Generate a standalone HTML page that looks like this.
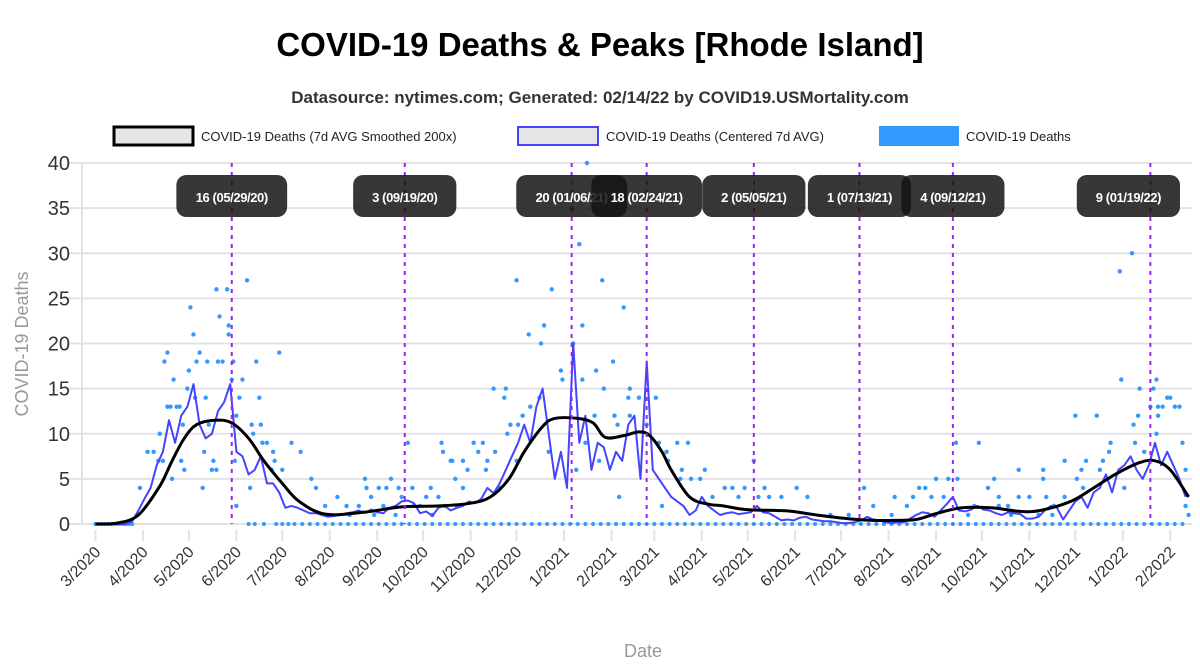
<!DOCTYPE html>
<html><head><meta charset="utf-8"><style>
body{margin:0;background:#fff;}
svg{display:block;font-family:"Liberation Sans",sans-serif;}
</style></head><body>
<svg id="chart" width="1200" height="670" viewBox="0 0 1200 670">
<text x="600" y="56" text-anchor="middle" font-size="33" font-weight="bold" fill="#000">COVID-19 Deaths &amp; Peaks [Rhode Island]</text>
<text x="600" y="103" text-anchor="middle" font-size="17" font-weight="bold" fill="#333">Datasource: nytimes.com; Generated: 02/14/22 by COVID19.USMortality.com</text>
<g>
<g><rect x="114" y="127" width="79" height="18" fill="#e5e5e5" stroke="#000" stroke-width="3"/><text x="201" y="141" font-size="13" fill="#222">COVID-19 Deaths (7d AVG Smoothed 200x)</text></g>
<g><rect x="518" y="127" width="80" height="18" fill="#e5e5e5" stroke="#4444ff" stroke-width="2"/><text x="606" y="141" font-size="13" fill="#222">COVID-19 Deaths (Centered 7d AVG)</text></g>
<g><rect x="879" y="126" width="80" height="20" fill="#3399ff"/><text x="966" y="141" font-size="13" fill="#222">COVID-19 Deaths</text></g>
</g>
<text transform="translate(28,344) rotate(-90)" text-anchor="middle" font-size="18" fill="#999">COVID-19 Deaths</text>
<text x="643" y="657" text-anchor="middle" font-size="18" fill="#999">Date</text>
<g id="grid"></g><g id="marks"></g><g id="peaks"></g>
</svg>
<script>
const yTicks=[0,5,10,15,20,25,30,35,40];
const monthLabels=["3/2020","4/2020","5/2020","6/2020","7/2020","8/2020","9/2020","10/2020","11/2020","12/2020","1/2021","2/2021","3/2021","4/2021","5/2021","6/2021","7/2021","8/2021","9/2021","10/2021","11/2021","12/2021","1/2022","2/2022"];
const monthDays=[0,31,61,92,122,153,184,214,245,275,306,337,365,396,426,457,487,518,549,579,610,640,671,702];
const smoothDays=[0,14,28,42,50,58,66,78,89,100,110,122,133,150,175,200,225,245,258,270,280,292,300,315,325,333,345,355,362,370,376,388,400,410,425,445,455,471,491,508,521,536,550,566,585,604,617,637,652,666,682,692,702,714];
const smoothVals=[0,0.1,1,4.2,7,9.5,11,11.5,11.2,9.5,7,4.5,2.5,1.1,1.3,1.9,2,2.3,3,5,8,10.8,11.7,11.7,11.2,9.6,9.8,10.2,9.8,8,6,3,2.2,2,1.6,1.5,1.4,1,0.6,0.4,0.4,0.5,1.2,1.8,1.8,1.4,1.5,2.5,4,5.5,6.8,7,6,3];
const avgVals=[0,0,0,0,0,0,0.3,1.5,2.8,4,6.5,8,11.5,9,12,13,15.5,11,9.5,10,12.5,13.5,15.5,8,7.5,5.5,6,7.5,4.5,4.5,3.5,1.8,2,1.8,1.5,1.2,1.2,1,0.8,0.9,1,1.2,1.3,1.5,1.2,1.6,1.3,1.2,1.8,2,2.5,2.6,2.3,1.2,1.4,0.9,1.8,2,1.5,1.8,2,
2.5,2.3,2.8,4,3.4,4.5,6,7.5,9,11,9,13,15,10,5,8,4,20,9,12,6,9,8.5,6,8,7,11,12,5,18,6,5,4,3,2.5,2,1,1.5,3,2,1.5,1,1.2,1.3,1.1,1.2,1.3,2,1.3,1.2,0.8,0.4,0.5,0.4,0.7,0.8,
0.5,0.4,0.3,0.3,0.2,0.1,0.1,0.2,0.4,0.8,0.5,0.4,0.2,0.1,0.2,0.2,0.6,1,1.3,1.2,0.8,1.5,2.2,3,1.5,1.4,1.6,2,1.6,1.5,1.2,1,1.3,1.2,1.1,0.6,0.6,0.8,1.5,2,1.8,0.5,1.5,2.5,3,1.8,3.5,4,5.5,3.5,6,6.5,7.5,6,5,6.5,9,6.5,8,6.5,5,3];
const dotDays=[79,86,99,62,81,64,87,87,47,45,68,66,73,80,83,90,105,120,51,61,60,96,89,65,72,94,107,47,49,53,55,92,57,74,102,108,42,103,109,112,128,34,38,71,116,134,41,44,56,77,91,117,58,76,79,115,122,50,141,176,193,29,70,101,144,177,185,190,198,207,219,227,226,204,232,92,
316,321,311,275,331,298,345,293,318,283,291,312,338,304,327,305,318,260,268,332,349,267,348,355,366,284,290,279,326,339,271,276,341,349,360,269,247,253,320,368,380,387,250,261,296,373,233,240,256,275,329,374,430,243,255,314,383,398,235,395,382,389,240,264,411,416,424,437,458,370,342,403,420,433,440,448,465,
677,669,670,682,693,691,700,702,689,694,697,705,708,640,654,681,694,678,693,663,679,710,562,577,662,685,633,647,658,603,619,644,656,712,549,557,563,587,619,641,502,538,542,583,645,672,522,534,546,554,590,603,621,633,712,714,
150,158,166,172,180,188,196,212,216,224,236,152,164,182,200,208,220,228,480,492,508,520,530,590,598,610,616,626,625,574,570,596];
const dotVals=[26,26,27,24,23,21,22,21,19,18,19,18,18,18,18,18,18,19,16,17,15,16,16,14,14,14,14,13,13,13,13,12,11,11,11,11,10,10,9,9,9,8,8,8,8,8,7,7,7,7,7,7,6,6,6,6,6,5,5,5,5,4,4,4,4,4,4,4,4,4,4,8,9,9,7,2,
31,40,35,27,27,26,24,22,22,21,20,20,18,17,17,16,16,15,15,15,15,14,14,14,14,13,14,12,12,12,11,11,11,12,11,10,9,9,9,9,9,9,8,8,8,8,7,7,7,7,7,7,7,6,6,6,6,6,5,5,5,5,4,4,4,4,4,4,4,2,3,3,3,3,3,3,3,
30,28,16,15,16,15,14,14,13,13,13,13,13,12,12,12,12,11,10,9,9,9,9,9,8,8,7,7,7,6,6,6,6,6,5,5,5,5,5,5,4,4,4,4,4,4,3,3,3,3,3,3,3,3,2,1,
2,3,1,2,3,2,1,2,3,3,2,1,2,1,3,2,1,2,1,1,2,1,2,2,1,3,1,2,1,2,1,2];
const zeroDays=[0,2,4,6,8,10,12,14,16,18,20,22,24,100,104,110,118,122,126,130,135,140,145,150,155,160,165,170,175,180,185,190,195,200,205,210,215,220,225,230,235,240,245,250,255,260,265,270,275,280,285,290,295,300,305,310,315,320,325,330,335,340,345,350,355,360,365,370,375,380,385,390,395,400,405,410,415,420,425,430,435,440,445,450,455,460,465,470,475,480,485,490,495,500,505,510,515,520,525,530,535,540,545,550,555,560,565,570,575,580,585,590,595,600,605,610,615,620,625,630,635,640,645,650,655,660,665,670,675,680,685,690,695,700,705,710];
const peakDays=[89,202,311,360,430,499,560,689];
const peakLabels=["16 (05/29/20)","3 (09/19/20)","20 (01/06/21)","18 (02/24/21)","2 (05/05/21)","1 (07/13/21)","4 (09/12/21)","9 (01/19/22)"];

const NS="http://www.w3.org/2000/svg";
const X=d=>95.5+d*1.531;
const Y=v=>524-v*9.025;
function mk(tag,attrs,parent){const e=document.createElementNS(NS,tag);for(const k in attrs)e.setAttribute(k,attrs[k]);parent.appendChild(e);return e;}
const grid=document.getElementById('grid'),marks=document.getElementById('marks'),peaksG=document.getElementById('peaks');
mk('line',{x1:82,x2:82,y1:163,y2:524,stroke:'#e3e3e3','stroke-width':2},grid);
yTicks.forEach(v=>{
  const l=mk('line',{x1:68,x2:1192,y1:Y(v),y2:Y(v),stroke:'#e3e3e3','stroke-width':2},grid);
  
  
  const t=mk('text',{x:70,y:Y(v)+7,'text-anchor':'end','font-size':20,fill:'#333'},grid);
  t.textContent=v;
  
  
});
monthDays.forEach((d,i)=>{
  const x=X(d);
  const tk=mk('line',{x1:x,x2:x,y1:530,y2:541,stroke:'#e3e3e3','stroke-width':2},grid);
  
  
  const t=mk('text',{transform:`translate(${x+6},553) rotate(-45)`,'text-anchor':'end','font-size':16,fill:'#333'},grid);
  t.textContent=monthLabels[i];
  
  
});
zeroDays.forEach(d=>{
  const c=mk('circle',{cx:X(d),cy:Y(0),r:2,fill:'#3399ff'},marks);
  
  
});
dotDays.forEach((d,i)=>{
  const c=mk('circle',{cx:X(d),cy:Y(dotVals[i]),r:2.2,fill:'#3399ff'},marks);
  
  
});
let p='';avgVals.forEach((v,i)=>{p+=(i?'L':'M')+X(i*4).toFixed(1)+','+Y(v).toFixed(1);});
const avg=mk('path',{d:p,fill:'none',stroke:'#4444ff','stroke-width':2,'stroke-linejoin':'round'},marks);


const n=Math.min(smoothDays.length,smoothVals.length);
const pts=[];for(let i=0;i<n;i++)pts.push([X(smoothDays[i]),Y(smoothVals[i])]);
let s='M'+pts[0][0]+','+pts[0][1];
for(let i=0;i<pts.length-1;i++){
  const p0=pts[Math.max(0,i-1)],p1=pts[i],p2=pts[i+1],p3=pts[Math.min(pts.length-1,i+2)];
  const c1=[p1[0]+(p2[0]-p0[0])/6,p1[1]+(p2[1]-p0[1])/6],c2=[p2[0]-(p3[0]-p1[0])/6,p2[1]-(p3[1]-p1[1])/6];
  s+=`C${c1[0].toFixed(1)},${c1[1].toFixed(1)} ${c2[0].toFixed(1)},${c2[1].toFixed(1)} ${p2[0].toFixed(1)},${p2[1].toFixed(1)}`;
}
const sm=mk('path',{d:s,fill:'none',stroke:'#000','stroke-width':3},marks);


peakDays.forEach((d,i)=>{
  const x=X(d);
  const l=mk('line',{x1:x,x2:x,y1:163,y2:524,stroke:'#a020f0','stroke-width':2,'stroke-dasharray':'4,5'},peaksG);
  
  
});
peakDays.forEach((d,i)=>{
  const w=peakLabels[i].length*7.6+12;
  const x=Math.min(X(d),1180-w/2);
  const g=mk('g',{},peaksG);
  
  
  mk('rect',{x:x-w/2,y:175,width:w,height:42,rx:10,fill:'rgba(20,20,20,0.85)'},g);
  const t=mk('text',{x:x,y:202,'text-anchor':'middle','font-size':13,'font-weight':'bold',fill:'#fff','letter-spacing':'-0.4'},g);
  t.textContent=peakLabels[i];
});
</script>
</body></html>
